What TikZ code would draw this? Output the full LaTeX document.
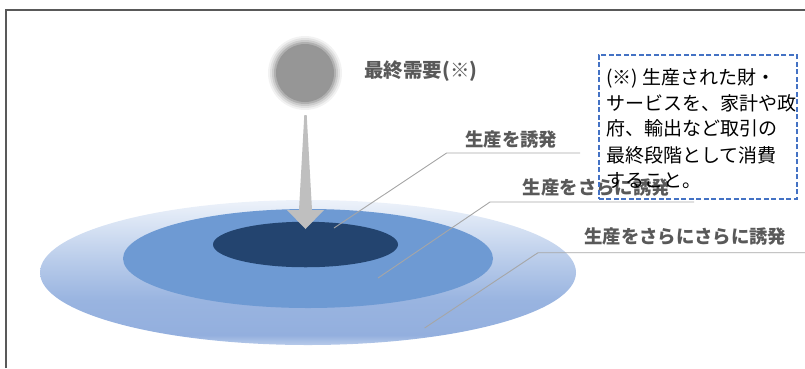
\documentclass[tikz,border=0pt]{standalone}
\usepackage{fontspec}
\newfontfamily\jp{Noto Sans CJK JP}
\usetikzlibrary{shapes.geometric}
\definecolor{framegray}{HTML}{595959}
\definecolor{labelgray}{HTML}{595959}
\definecolor{leadergray}{HTML}{A6A6A6}
\definecolor{arrowgray}{HTML}{BFBFBF}
\definecolor{balgray}{HTML}{969696}
\definecolor{midblue}{HTML}{6E9AD3}
\definecolor{darkblue}{HTML}{23446F}
\definecolor{boxblue}{HTML}{4472C4}
\definecolor{oa}{HTML}{B8CBEA}
\definecolor{ob}{HTML}{93AFDE}
\definecolor{oc}{HTML}{99B4E0}
\definecolor{od}{HTML}{B9CCEA}
\definecolor{oe}{HTML}{DCE6F5}
\definecolor{of}{HTML}{EDF2FA}
\pgfdeclareverticalshading{outershade}{100bp}{color(0bp)=(oa); color(25bp)=(oa); color(28.4bp)=(ob); color(40.5bp)=(oc); color(54.3bp)=(od); color(68.1bp)=(oe); color(75bp)=(of); color(100bp)=(of)}
\tikzset{
  lbl/.style={font=\jp\bfseries\fontsize{18.4}{22}\selectfont, text=labelgray, inner sep=0pt, anchor=base west},
  noteline/.style={font=\jp\fontsize{19}{23}\selectfont, text=black, inner sep=0pt, anchor=base west},
  leader/.style={draw=leadergray, line width=0.9pt},
  ell/.style={ellipse, inner sep=0pt, draw=none},
}
\begin{document}
\begin{tikzpicture}[x=1pt,y=-1pt]
\useasboundingbox (0,0) rectangle (805,368);
% frame
\draw[framegray, line width=1.5pt] (6,368) -- (6,10) -- (805,10);
% ellipses
\node[ell, minimum width=536pt, minimum height=145pt, shading=outershade] (outer) at (308,272.5) {};
\node[ell, minimum width=370pt, minimum height=99pt, fill=midblue] (middle) at (308,258.5) {};
\node[ell, minimum width=185pt, minimum height=45.5pt, fill=darkblue] (inner) at (305.5,244.5) {};
% ball with glow
\foreach \r/\o in {37/0.10,35/0.15,33/0.22,31/0.35}{
  \fill[gray, opacity=\o] (305,73) circle (\r);
}
\node[circle, minimum size=58pt, inner sep=0pt, fill=balgray] (ball) at (305,73) {};
% arrow
\fill[arrowgray] (304.3,115) -- (306.7,115) -- (312,210) -- (324,210) -- (305.5,229) -- (287,210) -- (299,210) -- cycle;
% labels
\node[lbl, font=\jp\bfseries\fontsize{19.5}{23}\selectfont] (title) at (364,77) {最終需要(※)};
\node[lbl] (l1) at (465,146) {生産を誘発};
\node[lbl] (l2) at (522.6,194) {生産をさらに誘発};
\node[lbl] (l3) at (584,243) {生産をさらにさらに誘発};
% leaders
\coordinate (p1) at (334,228);
\coordinate (k1) at (446.6,153);
\coordinate (e1) at (580,153);
\coordinate (p2) at (378,278);
\coordinate (k2) at (490,202);
\coordinate (e2) at (694,202);
\coordinate (p3) at (424.6,328);
\coordinate (k3) at (538,252.7);
\coordinate (e3) at (805,252.7);
\draw[leader] (p1) -- (k1) -- (e1);
\draw[leader] (p2) -- (k2) -- (e2);
\draw[leader] (p3) -- (k3) -- (e3);
% note box
\node[draw=boxblue, line width=1.7pt, dash pattern=on 5pt off 2.5pt, minimum width=198pt, minimum height=144pt, inner sep=0pt, anchor=north west] (box) at (598,54) {};
\node[noteline] (n1) at (606,84) {(※) 生産された財・};
\node[noteline] (n2) at (606,110) {サービスを、家計や政};
\node[noteline] (n3) at (606,135.5) {府、輸出など取引の};
\node[noteline] (n4) at (606,162) {最終段階として消費};
\node[noteline] (n5) at (606,187.5) {すること。};
\end{tikzpicture}
\end{document}
